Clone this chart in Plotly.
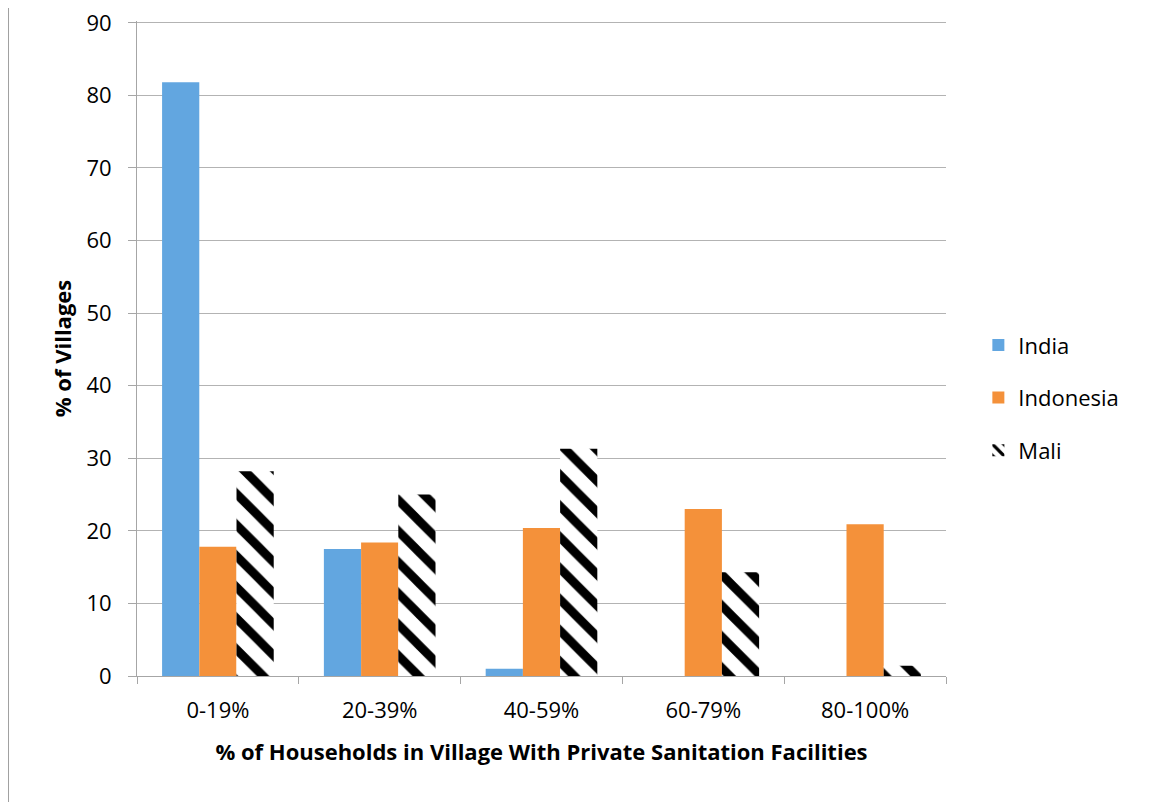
import plotly.graph_objects as go

categories = ["0-19%", "20-39%", "40-59%", "60-79%", "80-100%"]
india = [81.8, 17.5, 1.0, 0, 0]
indonesia = [17.8, 18.4, 20.4, 23.0, 20.9]
mali = [28.2, 25.0, 31.3, 14.3, 1.4]
y_ticks = [0, 10, 20, 30, 40, 50, 60, 70, 80, 90]

FONT = "Open Sans, Calibri, Liberation Sans, sans-serif"

fig = go.Figure()
fig.add_trace(go.Bar(name="India", x=categories, y=india, legendgroup="a",
                     marker=dict(color="#62A6E0", line=dict(width=0))))
fig.add_trace(go.Bar(name="Indonesia", x=categories, y=indonesia, legendgroup="b",
                     marker=dict(color="#F4913A", line=dict(width=0))))
fig.add_trace(go.Bar(name="Mali", x=categories, y=mali, legendgroup="c",
                     marker=dict(color="white", line=dict(width=0),
                                 pattern=dict(shape="\\", fgcolor="black", bgcolor="white",
                                              size=22, solidity=0.4, fillmode="replace"))))

fig.update_layout(
    width=1153, height=802,
    margin=dict(l=129, r=215, t=13, b=134),
    paper_bgcolor="white", plot_bgcolor="white",
    barmode="group", bargap=0.31, bargroupgap=0,
    font=dict(family=FONT, size=22, color="black"),
    showlegend=True,
    legend=dict(x=1.04, y=0.425, xanchor="left", yanchor="middle",
                font=dict(size=22), tracegroupgap=21, itemwidth=30),
    shapes=[dict(type="line", xref="paper", yref="paper", x0=-0.1588, x1=-0.1588,
                 y0=-0.3, y1=1.1, line=dict(color="#A0A0A0", width=1))],
)
fig.update_xaxes(
    type="category", tickson="boundaries", ticks="outside", ticklen=7,
    tickcolor="#A6A6A6", showline=True, linecolor="#A6A6A6", linewidth=1,
    tickfont=dict(size=22), ticklabelstandoff=15, automargin=False,
    title=dict(text="<b>% of Households in Village With Private Sanitation Facilities</b>",
               font=dict(size=22), standoff=21),
)
fig.update_yaxes(
    range=[0, 90.25], tickvals=y_ticks, ticks="outside", ticklen=8, tickcolor="#A6A6A6",
    showgrid=True, gridcolor="#B3B3B3", gridwidth=1,
    showline=True, linecolor="#A6A6A6", linewidth=1, zeroline=False,
    tickfont=dict(size=22), ticklabelstandoff=12, automargin=False,
    ticklabeloverflow="allow",
    title=dict(text="<b>% of Villages</b>", font=dict(size=22), standoff=8),
)

fig.write_html("out.html")
